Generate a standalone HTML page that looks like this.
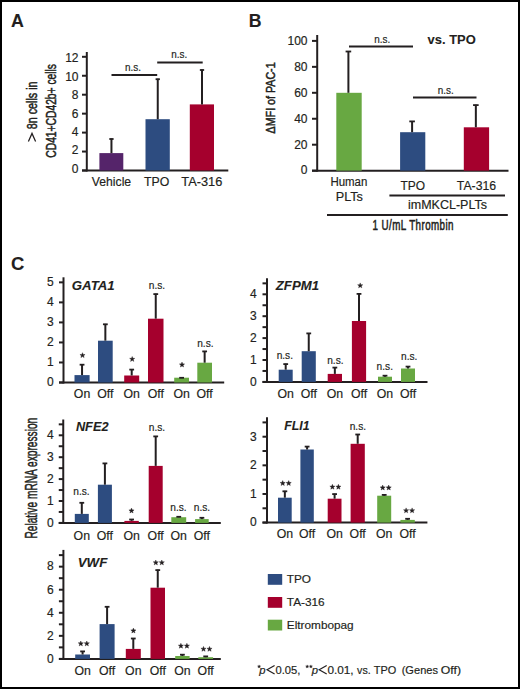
<!DOCTYPE html>
<html><head><meta charset="utf-8"><style>
html,body{margin:0;padding:0;background:#fff;}
body{width:520px;height:689px;overflow:hidden;}
svg{display:block;}
text{font-family:"Liberation Sans",sans-serif;fill:#231f20;stroke:#231f20;stroke-width:0.18px;}
text[font-weight="bold"]{stroke-width:0.1px;}
</style></head><body>
<svg width="520" height="689" viewBox="0 0 520 689">
<rect x="0" y="0" width="520" height="689" fill="#fff"/>
<text x="11.00" y="26.70" font-size="17.8" text-anchor="start" font-weight="bold" font-style="normal">A</text>
<line x1="86.80" y1="52.00" x2="86.80" y2="171.50" stroke="#231f20" stroke-width="2"/>
<line x1="82.00" y1="170.50" x2="228.30" y2="170.50" stroke="#231f20" stroke-width="2"/>
<line x1="82.00" y1="170.50" x2="86.80" y2="170.50" stroke="#231f20" stroke-width="2"/>
<text x="78.50" y="172.70" font-size="12" text-anchor="end" font-weight="normal" font-style="normal">0</text>
<line x1="82.00" y1="151.55" x2="86.80" y2="151.55" stroke="#231f20" stroke-width="2"/>
<text x="78.50" y="154.30" font-size="12" text-anchor="end" font-weight="normal" font-style="normal">2</text>
<line x1="82.00" y1="132.60" x2="86.80" y2="132.60" stroke="#231f20" stroke-width="2"/>
<text x="78.50" y="135.90" font-size="12" text-anchor="end" font-weight="normal" font-style="normal">4</text>
<line x1="82.00" y1="113.65" x2="86.80" y2="113.65" stroke="#231f20" stroke-width="2"/>
<text x="78.50" y="117.50" font-size="12" text-anchor="end" font-weight="normal" font-style="normal">6</text>
<line x1="82.00" y1="94.70" x2="86.80" y2="94.70" stroke="#231f20" stroke-width="2"/>
<text x="78.50" y="99.10" font-size="12" text-anchor="end" font-weight="normal" font-style="normal">8</text>
<line x1="82.00" y1="75.75" x2="86.80" y2="75.75" stroke="#231f20" stroke-width="2"/>
<text x="78.50" y="80.70" font-size="12" text-anchor="end" font-weight="normal" font-style="normal">10</text>
<line x1="82.00" y1="56.80" x2="86.80" y2="56.80" stroke="#231f20" stroke-width="2"/>
<text x="78.50" y="62.30" font-size="12" text-anchor="end" font-weight="normal" font-style="normal">12</text>
<rect x="99.40" y="153.10" width="23.90" height="17.40" fill="#55246a"/>
<line x1="111.45" y1="153.10" x2="111.45" y2="138.60" stroke="#231f20" stroke-width="2"/>
<line x1="109.30" y1="139.00" x2="113.60" y2="139.00" stroke="#231f20" stroke-width="1.8"/>
<rect x="145.50" y="119.20" width="24.30" height="51.30" fill="#2d4c80"/>
<line x1="157.75" y1="119.20" x2="157.75" y2="78.80" stroke="#231f20" stroke-width="2"/>
<line x1="155.60" y1="79.20" x2="159.90" y2="79.20" stroke="#231f20" stroke-width="1.8"/>
<rect x="189.80" y="104.40" width="24.20" height="66.10" fill="#a5002d"/>
<line x1="202.00" y1="104.40" x2="202.00" y2="69.60" stroke="#231f20" stroke-width="2"/>
<line x1="199.85" y1="70.00" x2="204.15" y2="70.00" stroke="#231f20" stroke-width="1.8"/>
<line x1="111.50" y1="75.10" x2="157.20" y2="75.10" stroke="#231f20" stroke-width="2"/>
<text x="133.00" y="71.20" font-size="11.5" text-anchor="middle" font-weight="normal" font-style="normal" textLength="16" lengthAdjust="spacingAndGlyphs">n.s.</text>
<line x1="157.20" y1="62.60" x2="202.70" y2="62.60" stroke="#231f20" stroke-width="2"/>
<text x="179.20" y="58.30" font-size="11.5" text-anchor="middle" font-weight="normal" font-style="normal" textLength="16" lengthAdjust="spacingAndGlyphs">n.s.</text>
<text x="111.50" y="186.20" font-size="12.2" text-anchor="middle" font-weight="normal" font-style="normal" textLength="39.3" lengthAdjust="spacingAndGlyphs">Vehicle</text>
<text x="156.70" y="186.20" font-size="12.2" text-anchor="middle" font-weight="normal" font-style="normal" textLength="25.3" lengthAdjust="spacingAndGlyphs">TPO</text>
<text x="201.80" y="186.20" font-size="12.2" text-anchor="middle" font-weight="normal" font-style="normal" textLength="41" lengthAdjust="spacingAndGlyphs">TA-316</text>
<text transform="translate(37.4,129.3) rotate(-90)" x="0" y="0" font-size="13.9" textLength="47.9" lengthAdjust="spacingAndGlyphs" style="stroke-width:0.5px">8n cells in</text>
<path d="M28.4 141.5L32.0 133.4L35.6 141.5" stroke="#231f20" stroke-width="1.25" fill="none" stroke-linejoin="miter"/>
<text transform="translate(55.60,110.85) rotate(-90)" x="0" y="0" font-size="13.9" text-anchor="middle" textLength="93.7" lengthAdjust="spacingAndGlyphs" style="stroke-width:0.5px">CD41+CD42b+ cells</text>
<text x="248.70" y="26.60" font-size="17.7" text-anchor="start" font-weight="bold" font-style="normal">B</text>
<line x1="317.20" y1="35.00" x2="317.20" y2="171.65" stroke="#231f20" stroke-width="2"/>
<line x1="312.00" y1="170.65" x2="508.50" y2="170.65" stroke="#231f20" stroke-width="2"/>
<line x1="312.00" y1="170.65" x2="317.20" y2="170.65" stroke="#231f20" stroke-width="2"/>
<text x="307.50" y="174.45" font-size="12" text-anchor="end" font-weight="normal" font-style="normal">0</text>
<line x1="312.00" y1="144.70" x2="317.20" y2="144.70" stroke="#231f20" stroke-width="2"/>
<text x="307.50" y="148.50" font-size="12" text-anchor="end" font-weight="normal" font-style="normal">20</text>
<line x1="312.00" y1="118.75" x2="317.20" y2="118.75" stroke="#231f20" stroke-width="2"/>
<text x="307.50" y="122.55" font-size="12" text-anchor="end" font-weight="normal" font-style="normal">40</text>
<line x1="312.00" y1="92.80" x2="317.20" y2="92.80" stroke="#231f20" stroke-width="2"/>
<text x="307.50" y="96.60" font-size="12" text-anchor="end" font-weight="normal" font-style="normal">60</text>
<line x1="312.00" y1="66.85" x2="317.20" y2="66.85" stroke="#231f20" stroke-width="2"/>
<text x="307.50" y="70.65" font-size="12" text-anchor="end" font-weight="normal" font-style="normal">80</text>
<line x1="312.00" y1="40.90" x2="317.20" y2="40.90" stroke="#231f20" stroke-width="2"/>
<text x="307.50" y="44.70" font-size="12" text-anchor="end" font-weight="normal" font-style="normal">100</text>
<rect x="336.30" y="92.80" width="25.40" height="77.85" fill="#68a842"/>
<line x1="348.40" y1="92.80" x2="348.40" y2="51.10" stroke="#231f20" stroke-width="2"/>
<line x1="345.60" y1="51.50" x2="351.20" y2="51.50" stroke="#231f20" stroke-width="1.8"/>
<rect x="400.10" y="132.20" width="25.20" height="38.45" fill="#2d4c80"/>
<line x1="412.10" y1="132.20" x2="412.10" y2="121.00" stroke="#231f20" stroke-width="2"/>
<line x1="409.30" y1="121.40" x2="414.90" y2="121.40" stroke="#231f20" stroke-width="1.8"/>
<rect x="463.80" y="127.30" width="25.30" height="43.35" fill="#a5002d"/>
<line x1="475.85" y1="127.30" x2="475.85" y2="104.70" stroke="#231f20" stroke-width="2"/>
<line x1="473.05" y1="105.10" x2="478.65" y2="105.10" stroke="#231f20" stroke-width="1.8"/>
<line x1="349.00" y1="46.50" x2="413.00" y2="46.50" stroke="#231f20" stroke-width="2"/>
<text x="382.30" y="43.00" font-size="11.5" text-anchor="middle" font-weight="normal" font-style="normal" textLength="16" lengthAdjust="spacingAndGlyphs">n.s.</text>
<line x1="413.00" y1="97.40" x2="476.50" y2="97.40" stroke="#231f20" stroke-width="2"/>
<text x="445.80" y="93.50" font-size="11.5" text-anchor="middle" font-weight="normal" font-style="normal" textLength="16" lengthAdjust="spacingAndGlyphs">n.s.</text>
<text x="427.60" y="43.60" font-size="13.5" text-anchor="start" font-weight="bold" font-style="normal" textLength="48.1" lengthAdjust="spacingAndGlyphs">vs. TPO</text>
<text x="348.90" y="185.80" font-size="12" text-anchor="middle" font-weight="normal" font-style="normal" textLength="37" lengthAdjust="spacingAndGlyphs">Human</text>
<text x="349.30" y="201.30" font-size="12" text-anchor="middle" font-weight="normal" font-style="normal" textLength="27.2" lengthAdjust="spacingAndGlyphs">PLTs</text>
<text x="412.70" y="190.00" font-size="12.2" text-anchor="middle" font-weight="normal" font-style="normal" textLength="24.6" lengthAdjust="spacingAndGlyphs">TPO</text>
<text x="476.50" y="190.00" font-size="12.2" text-anchor="middle" font-weight="normal" font-style="normal" textLength="39.3" lengthAdjust="spacingAndGlyphs">TA-316</text>
<line x1="389.40" y1="195.50" x2="505.00" y2="195.50" stroke="#231f20" stroke-width="2"/>
<text x="447.50" y="208.80" font-size="12" text-anchor="middle" font-weight="normal" font-style="normal" textLength="79" lengthAdjust="spacingAndGlyphs">imMKCL-PLTs</text>
<line x1="327.00" y1="215.00" x2="507.80" y2="215.00" stroke="#231f20" stroke-width="2"/>
<text transform="translate(372.6,229.5) scale(0.7,1)" x="0" y="0" font-size="14" textLength="115.5" lengthAdjust="spacing" style="stroke-width:0.55px">1 U/mL Thrombin</text>
<text transform="translate(275.00,97.90) rotate(-90)" x="0" y="0" font-size="12.2" text-anchor="middle" textLength="71" lengthAdjust="spacingAndGlyphs" style="stroke-width:0.5px">ΔMFI of PAC-1</text>
<text x="11.00" y="270.40" font-size="18.4" text-anchor="start" font-weight="bold" font-style="normal">C</text>
<text transform="translate(37.30,478.20) rotate(-90)" x="0" y="0" font-size="16.3" text-anchor="middle" textLength="120.8" lengthAdjust="spacingAndGlyphs" style="stroke-width:0.5px">Relative mRNA expression</text>
<line x1="63.50" y1="277.30" x2="63.50" y2="383.50" stroke="#231f20" stroke-width="2"/>
<line x1="59.00" y1="382.50" x2="224.20" y2="382.50" stroke="#231f20" stroke-width="2"/>
<line x1="59.00" y1="382.50" x2="63.50" y2="382.50" stroke="#231f20" stroke-width="2"/>
<text x="53.80" y="386.30" font-size="12" text-anchor="end" font-weight="normal" font-style="normal">0</text>
<line x1="59.00" y1="362.47" x2="63.50" y2="362.47" stroke="#231f20" stroke-width="2"/>
<text x="53.80" y="366.27" font-size="12" text-anchor="end" font-weight="normal" font-style="normal">1</text>
<line x1="59.00" y1="342.44" x2="63.50" y2="342.44" stroke="#231f20" stroke-width="2"/>
<text x="53.80" y="346.24" font-size="12" text-anchor="end" font-weight="normal" font-style="normal">2</text>
<line x1="59.00" y1="322.41" x2="63.50" y2="322.41" stroke="#231f20" stroke-width="2"/>
<text x="53.80" y="326.21" font-size="12" text-anchor="end" font-weight="normal" font-style="normal">3</text>
<line x1="59.00" y1="302.38" x2="63.50" y2="302.38" stroke="#231f20" stroke-width="2"/>
<text x="53.80" y="306.18" font-size="12" text-anchor="end" font-weight="normal" font-style="normal">4</text>
<line x1="59.00" y1="282.35" x2="63.50" y2="282.35" stroke="#231f20" stroke-width="2"/>
<text x="53.80" y="286.15" font-size="12" text-anchor="end" font-weight="normal" font-style="normal">5</text>
<rect x="74.50" y="375.10" width="15.10" height="7.40" fill="#2d4c80"/>
<line x1="82.05" y1="375.10" x2="82.05" y2="364.30" stroke="#231f20" stroke-width="2"/>
<line x1="79.65" y1="364.70" x2="84.45" y2="364.70" stroke="#231f20" stroke-width="1.8"/>
<text x="82.05" y="398.30" font-size="12.3" text-anchor="middle" font-weight="normal" font-style="normal">On</text>
<rect x="98.00" y="340.70" width="14.70" height="41.80" fill="#2d4c80"/>
<line x1="105.35" y1="340.70" x2="105.35" y2="323.90" stroke="#231f20" stroke-width="2"/>
<line x1="102.95" y1="324.30" x2="107.75" y2="324.30" stroke="#231f20" stroke-width="1.8"/>
<text x="105.35" y="398.30" font-size="12.3" text-anchor="middle" font-weight="normal" font-style="normal">Off</text>
<rect x="124.20" y="375.50" width="15.00" height="7.00" fill="#a5002d"/>
<line x1="131.70" y1="375.50" x2="131.70" y2="369.20" stroke="#231f20" stroke-width="2"/>
<line x1="129.30" y1="369.60" x2="134.10" y2="369.60" stroke="#231f20" stroke-width="1.8"/>
<text x="131.70" y="398.30" font-size="12.3" text-anchor="middle" font-weight="normal" font-style="normal">On</text>
<rect x="148.00" y="318.70" width="15.50" height="63.80" fill="#a5002d"/>
<line x1="155.75" y1="318.70" x2="155.75" y2="293.70" stroke="#231f20" stroke-width="2"/>
<line x1="153.35" y1="294.10" x2="158.15" y2="294.10" stroke="#231f20" stroke-width="1.8"/>
<text x="155.75" y="398.30" font-size="12.3" text-anchor="middle" font-weight="normal" font-style="normal">Off</text>
<rect x="174.20" y="377.70" width="14.80" height="4.80" fill="#68a842"/>
<line x1="181.60" y1="377.70" x2="181.60" y2="377.40" stroke="#231f20" stroke-width="2"/>
<line x1="179.20" y1="377.80" x2="184.00" y2="377.80" stroke="#231f20" stroke-width="1.8"/>
<text x="181.60" y="398.30" font-size="12.3" text-anchor="middle" font-weight="normal" font-style="normal">On</text>
<rect x="197.30" y="362.70" width="14.70" height="19.80" fill="#68a842"/>
<line x1="204.65" y1="362.70" x2="204.65" y2="351.00" stroke="#231f20" stroke-width="2"/>
<line x1="202.25" y1="351.40" x2="207.05" y2="351.40" stroke="#231f20" stroke-width="1.8"/>
<text x="204.65" y="398.30" font-size="12.3" text-anchor="middle" font-weight="normal" font-style="normal">Off</text>
<polygon points="82.50,352.70 83.18,354.47 85.07,354.57 83.59,355.76 84.09,357.58 82.50,356.55 80.91,357.58 81.41,355.76 79.93,354.57 81.82,354.47" fill="#231f20" stroke="#231f20" stroke-width="0.4" stroke-linejoin="round"/>
<polygon points="132.20,356.50 132.88,358.27 134.77,358.37 133.29,359.56 133.79,361.38 132.20,360.35 130.61,361.38 131.11,359.56 129.63,358.37 131.52,358.27" fill="#231f20" stroke="#231f20" stroke-width="0.4" stroke-linejoin="round"/>
<text x="157.00" y="289.40" font-size="11.5" text-anchor="middle" font-weight="normal" font-style="normal" textLength="16.4" lengthAdjust="spacingAndGlyphs">n.s.</text>
<polygon points="182.00,362.10 182.68,363.87 184.57,363.97 183.09,365.16 183.59,366.98 182.00,365.95 180.41,366.98 180.91,365.16 179.43,363.97 181.32,363.87" fill="#231f20" stroke="#231f20" stroke-width="0.4" stroke-linejoin="round"/>
<text x="205.40" y="346.50" font-size="11.5" text-anchor="middle" font-weight="normal" font-style="normal" textLength="16.4" lengthAdjust="spacingAndGlyphs">n.s.</text>
<text x="71.80" y="290.20" font-size="12.5" text-anchor="start" font-weight="bold" font-style="italic" textLength="42.9" lengthAdjust="spacingAndGlyphs">GATA1</text>
<line x1="267.00" y1="278.20" x2="267.00" y2="382.90" stroke="#231f20" stroke-width="2"/>
<line x1="262.50" y1="381.90" x2="427.50" y2="381.90" stroke="#231f20" stroke-width="2"/>
<line x1="262.50" y1="381.90" x2="267.00" y2="381.90" stroke="#231f20" stroke-width="2"/>
<text x="256.60" y="385.70" font-size="12" text-anchor="end" font-weight="normal" font-style="normal">0</text>
<line x1="262.50" y1="370.95" x2="267.00" y2="370.95" stroke="#231f20" stroke-width="2"/>
<line x1="262.50" y1="360.00" x2="267.00" y2="360.00" stroke="#231f20" stroke-width="2"/>
<text x="256.60" y="363.80" font-size="12" text-anchor="end" font-weight="normal" font-style="normal">1</text>
<line x1="262.50" y1="349.05" x2="267.00" y2="349.05" stroke="#231f20" stroke-width="2"/>
<line x1="262.50" y1="338.10" x2="267.00" y2="338.10" stroke="#231f20" stroke-width="2"/>
<text x="256.60" y="341.90" font-size="12" text-anchor="end" font-weight="normal" font-style="normal">2</text>
<line x1="262.50" y1="327.15" x2="267.00" y2="327.15" stroke="#231f20" stroke-width="2"/>
<line x1="262.50" y1="316.20" x2="267.00" y2="316.20" stroke="#231f20" stroke-width="2"/>
<text x="256.60" y="320.00" font-size="12" text-anchor="end" font-weight="normal" font-style="normal">3</text>
<line x1="262.50" y1="305.25" x2="267.00" y2="305.25" stroke="#231f20" stroke-width="2"/>
<line x1="262.50" y1="294.30" x2="267.00" y2="294.30" stroke="#231f20" stroke-width="2"/>
<text x="256.60" y="298.10" font-size="12" text-anchor="end" font-weight="normal" font-style="normal">4</text>
<line x1="262.50" y1="283.35" x2="267.00" y2="283.35" stroke="#231f20" stroke-width="2"/>
<rect x="278.70" y="369.70" width="14.00" height="12.20" fill="#2d4c80"/>
<line x1="285.70" y1="369.70" x2="285.70" y2="363.70" stroke="#231f20" stroke-width="2"/>
<line x1="283.30" y1="364.10" x2="288.10" y2="364.10" stroke="#231f20" stroke-width="1.8"/>
<text x="285.70" y="397.60" font-size="12.3" text-anchor="middle" font-weight="normal" font-style="normal">On</text>
<rect x="301.70" y="351.20" width="14.10" height="30.70" fill="#2d4c80"/>
<line x1="308.75" y1="351.20" x2="308.75" y2="333.00" stroke="#231f20" stroke-width="2"/>
<line x1="306.35" y1="333.40" x2="311.15" y2="333.40" stroke="#231f20" stroke-width="1.8"/>
<text x="308.75" y="397.60" font-size="12.3" text-anchor="middle" font-weight="normal" font-style="normal">Off</text>
<rect x="327.70" y="373.90" width="14.30" height="8.00" fill="#a5002d"/>
<line x1="334.85" y1="373.90" x2="334.85" y2="367.20" stroke="#231f20" stroke-width="2"/>
<line x1="332.45" y1="367.60" x2="337.25" y2="367.60" stroke="#231f20" stroke-width="1.8"/>
<text x="334.85" y="397.60" font-size="12.3" text-anchor="middle" font-weight="normal" font-style="normal">On</text>
<rect x="351.90" y="321.00" width="14.20" height="60.90" fill="#a5002d"/>
<line x1="359.00" y1="321.00" x2="359.00" y2="293.50" stroke="#231f20" stroke-width="2"/>
<line x1="356.60" y1="293.90" x2="361.40" y2="293.90" stroke="#231f20" stroke-width="1.8"/>
<text x="359.00" y="397.60" font-size="12.3" text-anchor="middle" font-weight="normal" font-style="normal">Off</text>
<rect x="378.00" y="376.70" width="14.00" height="5.20" fill="#68a842"/>
<line x1="385.00" y1="376.70" x2="385.00" y2="375.30" stroke="#231f20" stroke-width="2"/>
<line x1="382.60" y1="375.70" x2="387.40" y2="375.70" stroke="#231f20" stroke-width="1.8"/>
<text x="385.00" y="397.60" font-size="12.3" text-anchor="middle" font-weight="normal" font-style="normal">On</text>
<rect x="401.00" y="368.50" width="14.00" height="13.40" fill="#68a842"/>
<line x1="408.00" y1="368.50" x2="408.00" y2="366.20" stroke="#231f20" stroke-width="2"/>
<line x1="405.60" y1="366.60" x2="410.40" y2="366.60" stroke="#231f20" stroke-width="1.8"/>
<text x="408.00" y="397.60" font-size="12.3" text-anchor="middle" font-weight="normal" font-style="normal">Off</text>
<text x="284.85" y="358.80" font-size="11.5" text-anchor="middle" font-weight="normal" font-style="normal" textLength="16.4" lengthAdjust="spacingAndGlyphs">n.s.</text>
<text x="335.40" y="364.00" font-size="11.5" text-anchor="middle" font-weight="normal" font-style="normal" textLength="16.4" lengthAdjust="spacingAndGlyphs">n.s.</text>
<polygon points="360.20,282.90 360.88,284.67 362.77,284.77 361.29,285.96 361.79,287.78 360.20,286.75 358.61,287.78 359.11,285.96 357.63,284.77 359.52,284.67" fill="#231f20" stroke="#231f20" stroke-width="0.4" stroke-linejoin="round"/>
<text x="384.80" y="370.00" font-size="11.5" text-anchor="middle" font-weight="normal" font-style="normal" textLength="16.4" lengthAdjust="spacingAndGlyphs">n.s.</text>
<text x="409.20" y="360.40" font-size="11.5" text-anchor="middle" font-weight="normal" font-style="normal" textLength="16.4" lengthAdjust="spacingAndGlyphs">n.s.</text>
<text x="275.80" y="290.00" font-size="12.5" text-anchor="start" font-weight="bold" font-style="italic" textLength="43.2" lengthAdjust="spacingAndGlyphs">ZFPM1</text>
<line x1="63.25" y1="419.50" x2="63.25" y2="523.90" stroke="#231f20" stroke-width="2"/>
<line x1="58.75" y1="522.90" x2="220.80" y2="522.90" stroke="#231f20" stroke-width="2"/>
<line x1="58.75" y1="522.90" x2="63.25" y2="522.90" stroke="#231f20" stroke-width="2"/>
<text x="53.60" y="526.70" font-size="12" text-anchor="end" font-weight="normal" font-style="normal">0</text>
<line x1="58.75" y1="511.95" x2="63.25" y2="511.95" stroke="#231f20" stroke-width="2"/>
<line x1="58.75" y1="501.00" x2="63.25" y2="501.00" stroke="#231f20" stroke-width="2"/>
<text x="53.60" y="504.80" font-size="12" text-anchor="end" font-weight="normal" font-style="normal">1</text>
<line x1="58.75" y1="490.05" x2="63.25" y2="490.05" stroke="#231f20" stroke-width="2"/>
<line x1="58.75" y1="479.10" x2="63.25" y2="479.10" stroke="#231f20" stroke-width="2"/>
<text x="53.60" y="482.90" font-size="12" text-anchor="end" font-weight="normal" font-style="normal">2</text>
<line x1="58.75" y1="468.15" x2="63.25" y2="468.15" stroke="#231f20" stroke-width="2"/>
<line x1="58.75" y1="457.20" x2="63.25" y2="457.20" stroke="#231f20" stroke-width="2"/>
<text x="53.60" y="461.00" font-size="12" text-anchor="end" font-weight="normal" font-style="normal">3</text>
<line x1="58.75" y1="446.25" x2="63.25" y2="446.25" stroke="#231f20" stroke-width="2"/>
<line x1="58.75" y1="435.30" x2="63.25" y2="435.30" stroke="#231f20" stroke-width="2"/>
<text x="53.60" y="439.10" font-size="12" text-anchor="end" font-weight="normal" font-style="normal">4</text>
<line x1="58.75" y1="424.35" x2="63.25" y2="424.35" stroke="#231f20" stroke-width="2"/>
<rect x="74.80" y="513.90" width="14.00" height="9.00" fill="#2d4c80"/>
<line x1="81.80" y1="513.90" x2="81.80" y2="502.40" stroke="#231f20" stroke-width="2"/>
<line x1="79.40" y1="502.80" x2="84.20" y2="502.80" stroke="#231f20" stroke-width="1.8"/>
<text x="81.80" y="540.00" font-size="12.3" text-anchor="middle" font-weight="normal" font-style="normal">On</text>
<rect x="97.90" y="484.70" width="14.00" height="38.20" fill="#2d4c80"/>
<line x1="104.90" y1="484.70" x2="104.90" y2="463.00" stroke="#231f20" stroke-width="2"/>
<line x1="102.50" y1="463.40" x2="107.30" y2="463.40" stroke="#231f20" stroke-width="1.8"/>
<text x="104.90" y="540.00" font-size="12.3" text-anchor="middle" font-weight="normal" font-style="normal">Off</text>
<rect x="124.40" y="520.90" width="14.40" height="2.00" fill="#a5002d"/>
<line x1="131.60" y1="520.90" x2="131.60" y2="519.10" stroke="#231f20" stroke-width="2"/>
<line x1="129.20" y1="519.50" x2="134.00" y2="519.50" stroke="#231f20" stroke-width="1.8"/>
<text x="131.60" y="540.00" font-size="12.3" text-anchor="middle" font-weight="normal" font-style="normal">On</text>
<rect x="148.70" y="465.90" width="14.00" height="57.00" fill="#a5002d"/>
<line x1="155.70" y1="465.90" x2="155.70" y2="436.00" stroke="#231f20" stroke-width="2"/>
<line x1="153.30" y1="436.40" x2="158.10" y2="436.40" stroke="#231f20" stroke-width="1.8"/>
<text x="155.70" y="540.00" font-size="12.3" text-anchor="middle" font-weight="normal" font-style="normal">Off</text>
<rect x="171.30" y="517.20" width="14.90" height="5.70" fill="#68a842"/>
<line x1="178.75" y1="517.20" x2="178.75" y2="516.40" stroke="#231f20" stroke-width="2"/>
<line x1="176.35" y1="516.80" x2="181.15" y2="516.80" stroke="#231f20" stroke-width="1.8"/>
<text x="178.75" y="540.00" font-size="12.3" text-anchor="middle" font-weight="normal" font-style="normal">On</text>
<rect x="195.10" y="519.10" width="13.60" height="3.80" fill="#68a842"/>
<line x1="201.90" y1="519.10" x2="201.90" y2="517.40" stroke="#231f20" stroke-width="2"/>
<line x1="199.50" y1="517.80" x2="204.30" y2="517.80" stroke="#231f20" stroke-width="1.8"/>
<text x="201.90" y="540.00" font-size="12.3" text-anchor="middle" font-weight="normal" font-style="normal">Off</text>
<text x="81.50" y="494.60" font-size="11.5" text-anchor="middle" font-weight="normal" font-style="normal" textLength="16.4" lengthAdjust="spacingAndGlyphs">n.s.</text>
<polygon points="131.50,508.10 132.18,509.87 134.07,509.97 132.59,511.16 133.09,512.98 131.50,511.95 129.91,512.98 130.41,511.16 128.93,509.97 130.82,509.87" fill="#231f20" stroke="#231f20" stroke-width="0.4" stroke-linejoin="round"/>
<text x="157.00" y="430.60" font-size="11.5" text-anchor="middle" font-weight="normal" font-style="normal" textLength="16.4" lengthAdjust="spacingAndGlyphs">n.s.</text>
<text x="178.50" y="510.80" font-size="11.5" text-anchor="middle" font-weight="normal" font-style="normal" textLength="16.4" lengthAdjust="spacingAndGlyphs">n.s.</text>
<text x="202.00" y="510.80" font-size="11.5" text-anchor="middle" font-weight="normal" font-style="normal" textLength="16.4" lengthAdjust="spacingAndGlyphs">n.s.</text>
<text x="75.90" y="431.00" font-size="12.5" text-anchor="start" font-weight="bold" font-style="italic" textLength="32.6" lengthAdjust="spacingAndGlyphs">NFE2</text>
<line x1="267.00" y1="417.20" x2="267.00" y2="523.60" stroke="#231f20" stroke-width="2"/>
<line x1="262.50" y1="522.60" x2="427.40" y2="522.60" stroke="#231f20" stroke-width="2"/>
<line x1="262.50" y1="522.60" x2="267.00" y2="522.60" stroke="#231f20" stroke-width="2"/>
<text x="256.60" y="526.40" font-size="12" text-anchor="end" font-weight="normal" font-style="normal">0</text>
<line x1="262.50" y1="508.29" x2="267.00" y2="508.29" stroke="#231f20" stroke-width="2"/>
<line x1="262.50" y1="493.97" x2="267.00" y2="493.97" stroke="#231f20" stroke-width="2"/>
<text x="256.60" y="497.77" font-size="12" text-anchor="end" font-weight="normal" font-style="normal">1</text>
<line x1="262.50" y1="479.66" x2="267.00" y2="479.66" stroke="#231f20" stroke-width="2"/>
<line x1="262.50" y1="465.34" x2="267.00" y2="465.34" stroke="#231f20" stroke-width="2"/>
<text x="256.60" y="469.14" font-size="12" text-anchor="end" font-weight="normal" font-style="normal">2</text>
<line x1="262.50" y1="451.03" x2="267.00" y2="451.03" stroke="#231f20" stroke-width="2"/>
<line x1="262.50" y1="436.71" x2="267.00" y2="436.71" stroke="#231f20" stroke-width="2"/>
<text x="256.60" y="440.51" font-size="12" text-anchor="end" font-weight="normal" font-style="normal">3</text>
<line x1="262.50" y1="422.40" x2="267.00" y2="422.40" stroke="#231f20" stroke-width="2"/>
<rect x="278.00" y="497.70" width="13.70" height="24.90" fill="#2d4c80"/>
<line x1="284.85" y1="497.70" x2="284.85" y2="490.90" stroke="#231f20" stroke-width="2"/>
<line x1="282.45" y1="491.30" x2="287.25" y2="491.30" stroke="#231f20" stroke-width="1.8"/>
<text x="284.85" y="538.20" font-size="12.3" text-anchor="middle" font-weight="normal" font-style="normal">On</text>
<rect x="300.40" y="449.50" width="13.40" height="73.10" fill="#2d4c80"/>
<line x1="307.10" y1="449.50" x2="307.10" y2="446.20" stroke="#231f20" stroke-width="2"/>
<line x1="304.70" y1="446.60" x2="309.50" y2="446.60" stroke="#231f20" stroke-width="1.8"/>
<text x="307.10" y="538.20" font-size="12.3" text-anchor="middle" font-weight="normal" font-style="normal">Off</text>
<rect x="327.70" y="498.70" width="13.80" height="23.90" fill="#a5002d"/>
<line x1="334.60" y1="498.70" x2="334.60" y2="493.70" stroke="#231f20" stroke-width="2"/>
<line x1="332.20" y1="494.10" x2="337.00" y2="494.10" stroke="#231f20" stroke-width="1.8"/>
<text x="334.60" y="538.20" font-size="12.3" text-anchor="middle" font-weight="normal" font-style="normal">On</text>
<rect x="350.60" y="443.80" width="14.20" height="78.80" fill="#a5002d"/>
<line x1="357.70" y1="443.80" x2="357.70" y2="434.10" stroke="#231f20" stroke-width="2"/>
<line x1="355.30" y1="434.50" x2="360.10" y2="434.50" stroke="#231f20" stroke-width="1.8"/>
<text x="357.70" y="538.20" font-size="12.3" text-anchor="middle" font-weight="normal" font-style="normal">Off</text>
<rect x="377.20" y="495.70" width="14.00" height="26.90" fill="#68a842"/>
<line x1="384.20" y1="495.70" x2="384.20" y2="494.50" stroke="#231f20" stroke-width="2"/>
<line x1="381.80" y1="494.90" x2="386.60" y2="494.90" stroke="#231f20" stroke-width="1.8"/>
<text x="384.20" y="538.20" font-size="12.3" text-anchor="middle" font-weight="normal" font-style="normal">On</text>
<rect x="400.40" y="519.90" width="14.40" height="2.70" fill="#68a842"/>
<line x1="407.60" y1="519.90" x2="407.60" y2="518.40" stroke="#231f20" stroke-width="2"/>
<line x1="405.20" y1="518.80" x2="410.00" y2="518.80" stroke="#231f20" stroke-width="1.8"/>
<text x="407.60" y="538.20" font-size="12.3" text-anchor="middle" font-weight="normal" font-style="normal">Off</text>
<polygon points="282.70,480.60 283.38,482.37 285.27,482.47 283.79,483.66 284.29,485.48 282.70,484.45 281.11,485.48 281.61,483.66 280.13,482.47 282.02,482.37" fill="#231f20" stroke="#231f20" stroke-width="0.4" stroke-linejoin="round"/>
<polygon points="288.70,480.60 289.38,482.37 291.27,482.47 289.79,483.66 290.29,485.48 288.70,484.45 287.11,485.48 287.61,483.66 286.13,482.47 288.02,482.37" fill="#231f20" stroke="#231f20" stroke-width="0.4" stroke-linejoin="round"/>
<polygon points="332.40,484.30 333.08,486.07 334.97,486.17 333.49,487.36 333.99,489.18 332.40,488.15 330.81,489.18 331.31,487.36 329.83,486.17 331.72,486.07" fill="#231f20" stroke="#231f20" stroke-width="0.4" stroke-linejoin="round"/>
<polygon points="338.40,484.30 339.08,486.07 340.97,486.17 339.49,487.36 339.99,489.18 338.40,488.15 336.81,489.18 337.31,487.36 335.83,486.17 337.72,486.07" fill="#231f20" stroke="#231f20" stroke-width="0.4" stroke-linejoin="round"/>
<text x="357.90" y="430.30" font-size="11.5" text-anchor="middle" font-weight="normal" font-style="normal" textLength="16.4" lengthAdjust="spacingAndGlyphs">n.s.</text>
<polygon points="382.70,485.10 383.38,486.87 385.27,486.97 383.79,488.16 384.29,489.98 382.70,488.95 381.11,489.98 381.61,488.16 380.13,486.97 382.02,486.87" fill="#231f20" stroke="#231f20" stroke-width="0.4" stroke-linejoin="round"/>
<polygon points="388.70,485.10 389.38,486.87 391.27,486.97 389.79,488.16 390.29,489.98 388.70,488.95 387.11,489.98 387.61,488.16 386.13,486.97 388.02,486.87" fill="#231f20" stroke="#231f20" stroke-width="0.4" stroke-linejoin="round"/>
<polygon points="406.10,507.90 406.78,509.67 408.67,509.77 407.19,510.96 407.69,512.78 406.10,511.75 404.51,512.78 405.01,510.96 403.53,509.77 405.42,509.67" fill="#231f20" stroke="#231f20" stroke-width="0.4" stroke-linejoin="round"/>
<polygon points="412.10,507.90 412.78,509.67 414.67,509.77 413.19,510.96 413.69,512.78 412.10,511.75 410.51,512.78 411.01,510.96 409.53,509.77 411.42,509.67" fill="#231f20" stroke="#231f20" stroke-width="0.4" stroke-linejoin="round"/>
<text x="284.20" y="429.50" font-size="12.5" text-anchor="start" font-weight="bold" font-style="italic" textLength="25.3" lengthAdjust="spacingAndGlyphs">FLI1</text>
<line x1="63.40" y1="549.90" x2="63.40" y2="659.90" stroke="#231f20" stroke-width="2"/>
<line x1="58.90" y1="658.90" x2="220.80" y2="658.90" stroke="#231f20" stroke-width="2"/>
<line x1="58.90" y1="658.90" x2="63.40" y2="658.90" stroke="#231f20" stroke-width="2"/>
<text x="53.70" y="662.70" font-size="12" text-anchor="end" font-weight="normal" font-style="normal">0</text>
<line x1="58.90" y1="647.37" x2="63.40" y2="647.37" stroke="#231f20" stroke-width="2"/>
<line x1="58.90" y1="635.84" x2="63.40" y2="635.84" stroke="#231f20" stroke-width="2"/>
<text x="53.70" y="639.64" font-size="12" text-anchor="end" font-weight="normal" font-style="normal">2</text>
<line x1="58.90" y1="624.31" x2="63.40" y2="624.31" stroke="#231f20" stroke-width="2"/>
<line x1="58.90" y1="612.78" x2="63.40" y2="612.78" stroke="#231f20" stroke-width="2"/>
<text x="53.70" y="616.58" font-size="12" text-anchor="end" font-weight="normal" font-style="normal">4</text>
<line x1="58.90" y1="601.25" x2="63.40" y2="601.25" stroke="#231f20" stroke-width="2"/>
<line x1="58.90" y1="589.72" x2="63.40" y2="589.72" stroke="#231f20" stroke-width="2"/>
<text x="53.70" y="593.52" font-size="12" text-anchor="end" font-weight="normal" font-style="normal">6</text>
<line x1="58.90" y1="578.19" x2="63.40" y2="578.19" stroke="#231f20" stroke-width="2"/>
<line x1="58.90" y1="566.66" x2="63.40" y2="566.66" stroke="#231f20" stroke-width="2"/>
<text x="53.70" y="570.46" font-size="12" text-anchor="end" font-weight="normal" font-style="normal">8</text>
<line x1="58.90" y1="555.13" x2="63.40" y2="555.13" stroke="#231f20" stroke-width="2"/>
<rect x="75.20" y="654.50" width="14.80" height="4.40" fill="#2d4c80"/>
<line x1="82.60" y1="654.50" x2="82.60" y2="651.00" stroke="#231f20" stroke-width="2"/>
<line x1="80.20" y1="651.40" x2="85.00" y2="651.40" stroke="#231f20" stroke-width="1.8"/>
<text x="82.60" y="674.70" font-size="12.3" text-anchor="middle" font-weight="normal" font-style="normal">On</text>
<rect x="99.60" y="624.10" width="15.00" height="34.80" fill="#2d4c80"/>
<line x1="107.10" y1="624.10" x2="107.10" y2="606.40" stroke="#231f20" stroke-width="2"/>
<line x1="104.70" y1="606.80" x2="109.50" y2="606.80" stroke="#231f20" stroke-width="1.8"/>
<text x="107.10" y="674.70" font-size="12.3" text-anchor="middle" font-weight="normal" font-style="normal">Off</text>
<rect x="125.80" y="648.90" width="15.00" height="10.00" fill="#a5002d"/>
<line x1="133.30" y1="648.90" x2="133.30" y2="638.10" stroke="#231f20" stroke-width="2"/>
<line x1="130.90" y1="638.50" x2="135.70" y2="638.50" stroke="#231f20" stroke-width="1.8"/>
<text x="133.30" y="674.70" font-size="12.3" text-anchor="middle" font-weight="normal" font-style="normal">On</text>
<rect x="150.50" y="587.70" width="14.50" height="71.20" fill="#a5002d"/>
<line x1="157.75" y1="587.70" x2="157.75" y2="569.70" stroke="#231f20" stroke-width="2"/>
<line x1="155.35" y1="570.10" x2="160.15" y2="570.10" stroke="#231f20" stroke-width="1.8"/>
<text x="157.75" y="674.70" font-size="12.3" text-anchor="middle" font-weight="normal" font-style="normal">Off</text>
<rect x="175.20" y="656.00" width="14.40" height="2.90" fill="#68a842"/>
<line x1="182.40" y1="656.00" x2="182.40" y2="654.30" stroke="#231f20" stroke-width="2"/>
<line x1="180.00" y1="654.70" x2="184.80" y2="654.70" stroke="#231f20" stroke-width="1.8"/>
<text x="182.40" y="674.70" font-size="12.3" text-anchor="middle" font-weight="normal" font-style="normal">On</text>
<rect x="198.30" y="657.20" width="14.80" height="1.70" fill="#68a842"/>
<line x1="205.70" y1="657.20" x2="205.70" y2="656.00" stroke="#231f20" stroke-width="2"/>
<line x1="203.30" y1="656.40" x2="208.10" y2="656.40" stroke="#231f20" stroke-width="1.8"/>
<text x="205.70" y="674.70" font-size="12.3" text-anchor="middle" font-weight="normal" font-style="normal">Off</text>
<polygon points="80.80,641.00 81.48,642.77 83.37,642.87 81.89,644.06 82.39,645.88 80.80,644.85 79.21,645.88 79.71,644.06 78.23,642.87 80.12,642.77" fill="#231f20" stroke="#231f20" stroke-width="0.4" stroke-linejoin="round"/>
<polygon points="86.80,641.00 87.48,642.77 89.37,642.87 87.89,644.06 88.39,645.88 86.80,644.85 85.21,645.88 85.71,644.06 84.23,642.87 86.12,642.77" fill="#231f20" stroke="#231f20" stroke-width="0.4" stroke-linejoin="round"/>
<polygon points="133.40,628.10 134.08,629.87 135.97,629.97 134.49,631.16 134.99,632.98 133.40,631.95 131.81,632.98 132.31,631.16 130.83,629.97 132.72,629.87" fill="#231f20" stroke="#231f20" stroke-width="0.4" stroke-linejoin="round"/>
<polygon points="155.80,560.00 156.48,561.77 158.37,561.87 156.89,563.06 157.39,564.88 155.80,563.85 154.21,564.88 154.71,563.06 153.23,561.87 155.12,561.77" fill="#231f20" stroke="#231f20" stroke-width="0.4" stroke-linejoin="round"/>
<polygon points="161.80,560.00 162.48,561.77 164.37,561.87 162.89,563.06 163.39,564.88 161.80,563.85 160.21,564.88 160.71,563.06 159.23,561.87 161.12,561.77" fill="#231f20" stroke="#231f20" stroke-width="0.4" stroke-linejoin="round"/>
<polygon points="180.90,643.30 181.58,645.07 183.47,645.17 181.99,646.36 182.49,648.18 180.90,647.15 179.31,648.18 179.81,646.36 178.33,645.17 180.22,645.07" fill="#231f20" stroke="#231f20" stroke-width="0.4" stroke-linejoin="round"/>
<polygon points="186.90,643.30 187.58,645.07 189.47,645.17 187.99,646.36 188.49,648.18 186.90,647.15 185.31,648.18 185.81,646.36 184.33,645.17 186.22,645.07" fill="#231f20" stroke="#231f20" stroke-width="0.4" stroke-linejoin="round"/>
<polygon points="203.50,646.40 204.18,648.17 206.07,648.27 204.59,649.46 205.09,651.28 203.50,650.25 201.91,651.28 202.41,649.46 200.93,648.27 202.82,648.17" fill="#231f20" stroke="#231f20" stroke-width="0.4" stroke-linejoin="round"/>
<polygon points="209.50,646.40 210.18,648.17 212.07,648.27 210.59,649.46 211.09,651.28 209.50,650.25 207.91,651.28 208.41,649.46 206.93,648.27 208.82,648.17" fill="#231f20" stroke="#231f20" stroke-width="0.4" stroke-linejoin="round"/>
<text x="77.70" y="566.60" font-size="12.5" text-anchor="start" font-weight="bold" font-style="italic" textLength="29.6" lengthAdjust="spacingAndGlyphs">VWF</text>
<rect x="267.80" y="574.00" width="14.40" height="10.80" fill="#2d4c80"/>
<text x="286.80" y="583.20" font-size="11.8" text-anchor="start" font-weight="normal" font-style="normal">TPO</text>
<rect x="267.80" y="597.00" width="14.40" height="10.80" fill="#a5002d"/>
<text x="286.80" y="606.20" font-size="11.8" text-anchor="start" font-weight="normal" font-style="normal">TA-316</text>
<rect x="267.80" y="619.70" width="14.40" height="10.80" fill="#68a842"/>
<text x="286.80" y="628.90" font-size="11.8" text-anchor="start" font-weight="normal" font-style="normal">Eltrombopag</text>
<polygon points="259.10,664.90 259.54,665.89 260.62,666.01 259.81,666.73 260.04,667.79 259.10,667.25 258.16,667.79 258.39,666.73 257.58,666.01 258.66,665.89" fill="#231f20" stroke="#231f20" stroke-width="0.4" stroke-linejoin="round"/>
<text x="259.30" y="673.50" font-size="11.3" text-anchor="start" font-weight="normal" font-style="italic">p</text>
<path d="M274.60 665.6L267.10 669.8L274.60 674" stroke="#231f20" stroke-width="1.2" fill="none"/>
<text x="275.50" y="673.50" font-size="11.3" text-anchor="start" font-weight="normal" font-style="normal" textLength="24.9" lengthAdjust="spacingAndGlyphs">0.05,</text>
<polygon points="307.20,664.90 307.64,665.89 308.72,666.01 307.91,666.73 308.14,667.79 307.20,667.25 306.26,667.79 306.49,666.73 305.68,666.01 306.76,665.89" fill="#231f20" stroke="#231f20" stroke-width="0.4" stroke-linejoin="round"/>
<polygon points="310.90,664.90 311.34,665.89 312.42,666.01 311.61,666.73 311.84,667.79 310.90,667.25 309.96,667.79 310.19,666.73 309.38,666.01 310.46,665.89" fill="#231f20" stroke="#231f20" stroke-width="0.4" stroke-linejoin="round"/>
<text x="311.80" y="673.50" font-size="11.3" text-anchor="start" font-weight="normal" font-style="italic">p</text>
<path d="M326.70 665.6L319.20 669.8L326.70 674" stroke="#231f20" stroke-width="1.2" fill="none"/>
<text x="327.40" y="673.50" font-size="11.3" text-anchor="start" font-weight="normal" font-style="normal" textLength="26.2" lengthAdjust="spacingAndGlyphs">0.01,</text>
<text x="357.10" y="673.50" font-size="11.3" text-anchor="start" font-weight="normal" font-style="normal" textLength="13.6" lengthAdjust="spacingAndGlyphs">vs.</text>
<text x="373.80" y="673.50" font-size="11.3" text-anchor="start" font-weight="normal" font-style="normal" textLength="22.5" lengthAdjust="spacingAndGlyphs">TPO</text>
<text x="401.70" y="673.50" font-size="11.3" text-anchor="start" font-weight="normal" font-style="normal" textLength="36.3" lengthAdjust="spacingAndGlyphs">(Genes</text>
<text x="440.80" y="673.50" font-size="11.3" text-anchor="start" font-weight="normal" font-style="normal" textLength="20.2" lengthAdjust="spacingAndGlyphs">Off)</text>
<rect x="1" y="1" width="518" height="687" fill="none" stroke="#000" stroke-width="2"/>
</svg>
</body></html>
